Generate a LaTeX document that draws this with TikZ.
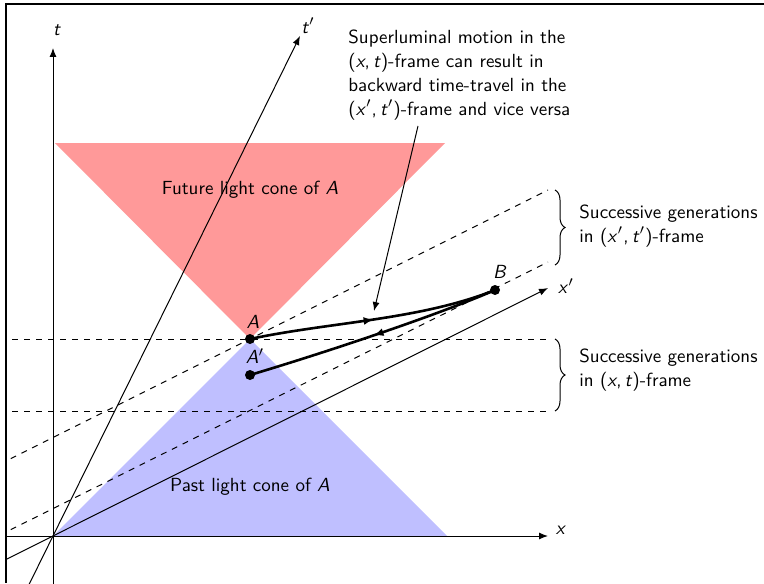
\documentclass[tikz,border=0pt]{standalone}
\usetikzlibrary{arrows.meta,decorations.markings,decorations.pathreplacing}
\newcommand{\mv}[1]{\textit{#1}}
\newcommand{\pr}{\ensuremath{'}}
\newcommand{\pair}[2]{(#1,\,#2)}
\tikzset{
  axisline/.style={line width=0.5pt,-{Latex[length=4.5pt,width=3.5pt]}},
  worldline/.style={line width=1.3pt,
    postaction={decorate,decoration={markings,
      mark=at position 0.5 with {\arrow{Latex[length=5pt,width=4pt]}}}}},
  genline/.style={dashed,line width=0.5pt},
  eventdot/.style={circle,fill=black,inner sep=0pt,minimum size=5pt},
  lbl/.style={inner sep=0pt},
  framefill/.style={fill=black},
  bracestyle/.style={decorate,decoration={brace,amplitude=5pt},line width=0.5pt},
}
\begin{document}
\begin{tikzpicture}[x=0.5pt,y=-0.5pt,font=\sffamily\fontsize{9.5pt}{12pt}\selectfont]
\useasboundingbox (0,0) rectangle (764,583);
\begin{scope}
\clip (6,4) rectangle (764,583);
% light cones
\fill[red!40] (250,339) -- (55,143) -- (445,143) -- cycle;
\fill[blue!25] (250,339) -- (53,536) -- (447,536) -- cycle;
% coordinates
\coordinate (O) at (53,536);
\coordinate (tS) at (53,700);
\coordinate (tE) at (53,48);
\coordinate (xS) at (0,536);
\coordinate (xE) at (548,536);
\coordinate (tpS) at (3.6,636);
\coordinate (tpE) at (300,36);
\coordinate (xpS) at (-10,567.5);
\coordinate (xpE) at (548,288);
% axes
\draw[axisline] (tS) -- (tE);
\draw[axisline] (xS) -- (xE);
\draw[axisline] (tpS) -- (tpE);
\draw[axisline] (xpS) -- (xpE);
% generation lines
\coordinate (h1S) at (0,339);  \coordinate (h1E) at (548,339);
\coordinate (h2S) at (0,411);  \coordinate (h2E) at (548,411);
\coordinate (d1S) at (0,464);  \coordinate (d1E) at (548,190);
\coordinate (d2S) at (0,535);  \coordinate (d2E) at (548,262);
\draw[genline] (h1S) -- (h1E);
\draw[genline] (h2S) -- (h2E);
\draw[genline] (d1S) -- (d1E);
\draw[genline] (d2S) -- (d2E);
\end{scope}
% frame
\fill[framefill] (4.5,3.5) rectangle (6.5,583);
\fill[framefill] (4.5,3.5) rectangle (764,5.5);
% axis labels
\node[lbl] (tl) at (57,30) {\mv{t}};
\node[lbl] (xl) at (561,530) {\mv{x}};
\node[lbl] (tpl) at (308,26) {\mv{t}\pr};
\node[lbl] (xpl) at (566,286) {\mv{x}\pr};
% cone labels
\node (fut) at (250,190) {Future light cone of \mv{A}};
\node (past) at (250,487) {Past light cone of \mv{A}};
% events
\node[eventdot] (A) at (250,339) {};
\node[eventdot] (Ap) at (250,375) {};
\node[eventdot] (B) at (495,290) {};
\node[lbl] (Al) at (253,322) {\mv{A}};
\node[lbl] (Apl) at (255,356) {\mv{A}\pr};
\node[lbl] (Bl) at (500,272) {\mv{B}};
% world lines
\draw[worldline] (A.center) .. controls (330,322) and (420,320) .. (B.center);
\draw[worldline] (B.center) .. controls (445,312) and (340,348) .. (Ap.center);
% note
\node[lbl,anchor=west,align=left] (note) at (348,75)
  {Superluminal motion in the\\\pair{\mv{x}}{\mv{t}}-frame can result in\\backward time-travel in the\\\pair{\mv{x}\pr}{\mv{t}\pr}-frame and vice versa};
\coordinate (annS) at (418,126);
\coordinate (annE) at (374,311);
\draw[line width=0.5pt,-{Latex[length=4.5pt,width=3.5pt]}] (annS) -- (annE);
% braces
\coordinate (b1T) at (555,190); \coordinate (b1B) at (555,265);
\coordinate (b2T) at (555,339); \coordinate (b2B) at (555,411);
\draw[bracestyle] (b1T) -- (b1B);
\draw[bracestyle] (b2T) -- (b2B);
\node[lbl,anchor=west,align=left] (g1) at (579,226) {Successive generations\\in \pair{\mv{x}\pr}{\mv{t}\pr}-frame};
\node[lbl,anchor=west,align=left] (g2) at (579,370) {Successive generations\\in \pair{\mv{x}}{\mv{t}}-frame};
\end{tikzpicture}
\end{document}
